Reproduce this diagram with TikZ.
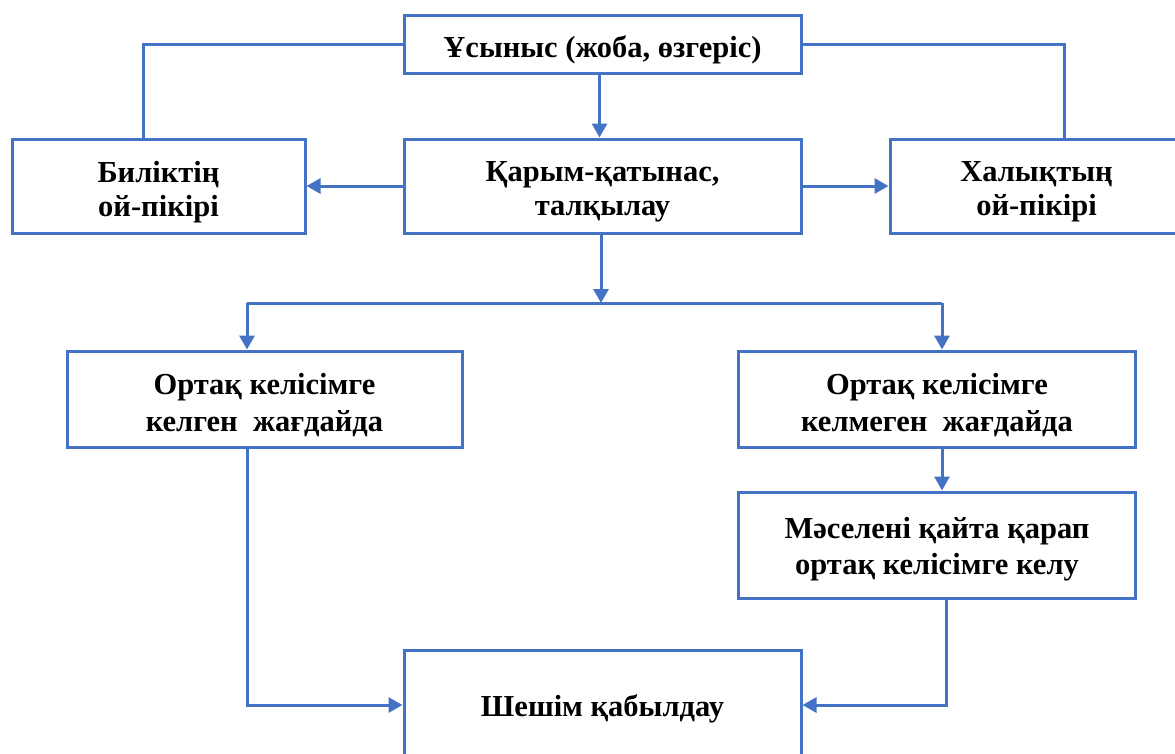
\documentclass[tikz,border=0pt]{standalone}
\usepackage{fontspec}
\setmainfont{Liberation Serif}
\usetikzlibrary{arrows.meta,calc}
\definecolor{lineblue}{HTML}{4472C4}
\begin{document}
\begin{tikzpicture}[x=1pt,y=-1pt,
  box/.style={draw=lineblue,line width=3pt,inner sep=0pt},
  txt/.style={align=center,inner sep=0pt,yshift=-6pt,
    font=\fontsize{30.5}{37}\selectfont\bfseries},
  conn/.style={draw=lineblue,line width=3pt},
  arr/.style={conn,-{Triangle[length=14pt,width=15pt]}}]
\useasboundingbox (0,0) rectangle (1175,753);
\clip (0,0) rectangle (1175,753);
\fill[white] (0,0) rectangle (1175,753);
\node[box,minimum width=397pt,minimum height=58pt,label={[txt]center:Ұсыныс (жоба, өзгеріс)}] (top) at (602.5,44) {};
\node[box,minimum width=293pt,minimum height=94pt,label={[txt]center:Биліктің\\[-3pt]ой-пікірі}] (left) at (158.5,186) {};
\node[box,minimum width=397pt,minimum height=94pt,label={[txt]center:Қарым-қатынас,\\[-3pt]талқылау}] (center) at (602.5,186) {};
\node[box,minimum width=293pt,minimum height=94pt,label={[txt]center:Халықтың\\[-3pt]ой-пікірі}] (right) at (1036.5,186) {};
\node[box,minimum width=395pt,minimum height=96pt,label={[txt]center:Ортақ келісімге\\келген~~жағдайда}] (ll) at (264.5,399) {};
\node[box,minimum width=397pt,minimum height=96pt,label={[txt]center:Ортақ келісімге\\келмеген~~жағдайда}] (rl) at (937,399) {};
\node[box,minimum width=397pt,minimum height=106pt,label={[txt,yshift=2pt]center:Мәселені қайта қарап\\[-1pt]ортақ келісімге келу}] (rl2) at (937,545) {};
\node[box,minimum width=397pt,minimum height=110pt,label={[txt,yshift=2pt]center:Шешім қабылдау}] (bot) at (602.5,705) {};
\coordinate (lt) at (143,0);
\coordinate (rt) at (1064,0);
\coordinate (split) at (601,303);
\coordinate (hl) at (247,303);
\coordinate (hr) at (942,303);
\coordinate (rb) at (946,0);
\draw[conn] (top.west) -| (lt |- left.north);
\draw[conn] (top.east) -| (rt |- right.north);
\draw[arr] ($(top.south)+(-3,0)$) -- ($(center.north)+(-3,0)$);
\draw[arr] (center.west) -- (left.east);
\draw[arr] (center.east) -- (right.west);
\draw[arr] (split |- center.south) -- (split);
\draw[conn] (hl) -- (hr);
\draw[arr] (hl) -- (hl |- ll.north);
\draw[arr] (hr) -- (hr |- rl.north);
\draw[arr] (hl |- ll.south) |- (bot.west);
\draw[arr] (hr |- rl.south) -- (hr |- rl2.north);
\draw[arr] (rb |- rl2.south) |- (bot.east);
\end{tikzpicture}
\end{document}
